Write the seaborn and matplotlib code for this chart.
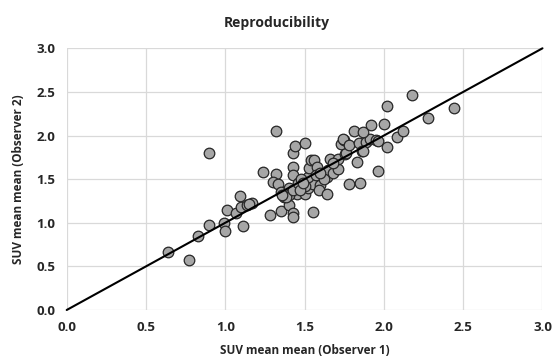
import matplotlib
matplotlib.use("Agg")
import matplotlib.pyplot as plt
import seaborn as sns
import pandas as pd

observer1 = [0.64, 0.77, 0.83, 0.90, 0.99, 1.00, 1.11, 1.01, 1.07, 1.09, 1.10, 1.14, 1.17, 1.15,
             0.90, 1.24, 1.28, 1.32, 1.32, 1.30, 1.33, 1.35, 1.35, 1.37, 1.40, 1.40, 1.43, 1.43,
             1.43, 1.43, 1.43, 1.44, 1.50,
             1.45, 1.40, 1.38, 1.36, 1.43, 1.50, 1.52, 1.55, 1.52, 1.53, 1.54, 1.56, 1.58, 1.60,
             1.59, 1.64, 1.55, 1.64, 1.65, 1.68, 1.71, 1.66, 1.71, 1.68, 1.755, 1.76, 1.73, 1.75,
             1.74, 1.78, 1.84, 1.89, 1.91, 1.95, 1.96, 1.86, 1.87, 1.83, 1.78, 1.85, 1.96, 2.02,
             1.81, 1.87, 1.92, 2.00, 2.02, 2.08, 2.12, 2.18, 2.28, 2.44, 1.46, 1.48, 1.50, 1.47,
             1.57, 1.62, 1.60, 1.49]
observer2 = [0.66, 0.57, 0.85, 0.97, 1.00, 0.91, 0.96, 1.15, 1.11, 1.31, 1.18, 1.20, 1.23, 1.21,
             1.80, 1.58, 1.09, 2.05, 1.56, 1.47, 1.45, 1.13, 1.35, 1.30, 1.20, 1.40, 1.64, 1.55,
             1.11, 1.07, 1.80, 1.88, 1.91,
             1.33, 1.32, 1.30, 1.32, 1.38, 1.33, 1.40, 1.45, 1.52, 1.63, 1.72, 1.72, 1.64, 1.43,
             1.38, 1.33, 1.12, 1.52, 1.60, 1.57, 1.62, 1.73, 1.73, 1.68, 1.79, 1.80, 1.90, 1.95,
             1.96, 1.89, 1.91, 1.93, 1.96, 1.95, 1.94, 1.82, 1.82, 1.70, 1.44, 1.46, 1.59, 1.87,
             2.05, 2.04, 2.12, 2.13, 2.34, 1.98, 2.05, 2.47, 2.20, 2.32, 1.46, 1.50, 1.42, 1.37,
             1.55, 1.50, 1.57, 1.46]
identity_x = [0.0, 3.0]
identity_y = [0.0, 3.0]
ticks = [0.0, 0.5, 1.0, 1.5, 2.0, 2.5, 3.0]
tick_labels = ["0.0", "0.5", "1.0", "1.5", "2.0", "2.5", "3.0"]

sns.set_theme(style="white")
plt.rcParams['font.family'] = ['Open Sans', 'DejaVu Sans']

df = pd.DataFrame({"o1": observer1, "o2": observer2})
line_df = pd.DataFrame({"x": identity_x, "y": identity_y})

fig = plt.figure(figsize=(5.54, 3.61), dpi=100)
ax = fig.add_axes([0.1204, 0.1413, 0.8588, 0.7249])

sns.scatterplot(data=df, x="o1", y="o2", ax=ax, s=58, color="#A6A6A6",
                edgecolor="#262626", linewidth=0.9, zorder=3)
sns.lineplot(data=line_df, x="x", y="y", ax=ax, color="black", linewidth=1.5, zorder=4)
ax.lines[-1].set_clip_on(False)

ax.set_xlim(0, 3)
ax.set_ylim(0, 3)
ax.set_xticks(ticks)
ax.set_yticks(ticks)
ax.set_xticklabels(tick_labels, fontsize=9.5, fontweight="bold", color="#262626")
ax.set_yticklabels(tick_labels, fontsize=9.5, fontweight="bold", color="#262626")
ax.tick_params(axis="both", length=0, pad=8)
ax.grid(True, color="#D9D9D9", linewidth=0.9, zorder=0)
ax.set_axisbelow(True)
for sp in ax.spines.values():
    sp.set_visible(False)

ax.set_xlabel("SUV mean mean (Observer 1)", fontsize=8.5, fontweight="bold", color="#262626", labelpad=7)
ax.set_ylabel("SUV mean mean (Observer 2)", fontsize=8.5, fontweight="bold", color="#262626", labelpad=8)
fig.text(0.5, 0.918, "Reproducibility", ha="center", va="bottom", fontsize=10,
         fontweight="bold", color="#262626")

fig.savefig("out.png", dpi=100)
